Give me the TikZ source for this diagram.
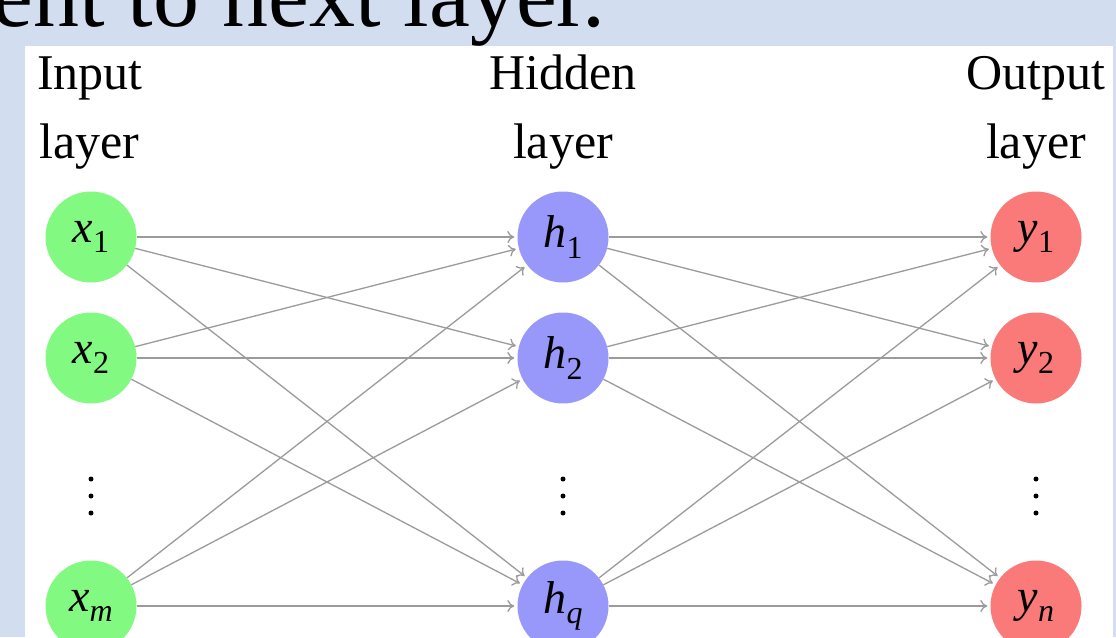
\documentclass[tikz,border=0pt]{standalone}
\usepackage{fontspec}
\setmainfont{Liberation Serif}
\usetikzlibrary{arrows.meta}
\definecolor{bgblue}{RGB}{210,221,240}
\definecolor{ingreen}{RGB}{130,250,130}
\definecolor{hidblue}{RGB}{152,152,250}
\definecolor{outred}{RGB}{250,122,122}
\definecolor{edgegray}{RGB}{155,155,155}
\tikzset{
  neuron/.style={circle,minimum size=91pt,inner sep=0pt,font=\fontsize{46}{46}\selectfont},
  innode/.style={neuron,fill=ingreen},
  hidnode/.style={neuron,fill=hidblue},
  outnode/.style={neuron,fill=outred},
  edge/.style={draw=edgegray,line width=1.3pt,-{To[length=7pt,width=12pt]},shorten >=3pt},
  lbl/.style={font=\fontsize{50}{50}\selectfont,inner sep=0pt,anchor=base},
  vd/.style={circle,fill=black,inner sep=0pt,minimum size=5pt}
}
\newcommand{\nlab}[2]{\textit{#1}\raisebox{-0.22em}{\fontsize{32}{32}\selectfont #2}}
\begin{document}
\begin{tikzpicture}[x=1pt,y=-1pt]
\useasboundingbox (0,0) rectangle (1116,637);
\fill[bgblue] (0,0) rectangle (1116,637);
\fill[white] (24.5,45.5) rectangle (1112.5,637);
\node[anchor=base west,inner sep=0pt,font=\fontsize{92}{92}\selectfont] (title) at (-8,26) {ent to next layer.};
% layer labels
\node[lbl,anchor=base west] (inl1) at (37,89) {Input};
\node[lbl,anchor=base west] (inl2) at (39,158) {layer};
\node[lbl] (hl1) at (563,89) {Hidden};
\node[lbl] (hl2) at (563,158) {layer};
\node[lbl] (ol1) at (1036,89) {Output};
\node[lbl] (ol2) at (1036,158) {layer};
% neurons
\node[innode] (x1) at (91,237) {\nlab{x}{1}};
\node[innode] (x2) at (91,358) {\nlab{x}{2}};
\node[innode] (xm) at (91,606) {\nlab{x}{\textit{m}}};
\node[hidnode] (h1) at (563,237) {\nlab{h}{1}};
\node[hidnode] (h2) at (563,358) {\nlab{h}{2}};
\node[hidnode] (hq) at (563,606) {\nlab{h}{\textit{q}}};
\node[outnode] (y1) at (1036,237) {\nlab{y}{1}};
\node[outnode] (y2) at (1036,358) {\nlab{y}{2}};
\node[outnode] (yn) at (1036,606) {\nlab{y}{\textit{n}}};
% vertical dots
\foreach \c/\n in {91/a,563/b,1036/c}{
  \node[vd] (d\n1) at (\c,479) {};
  \node[vd] (d\n2) at (\c,496) {};
  \node[vd] (d\n3) at (\c,513) {};
}
% edges
\foreach \s in {x1,x2,xm}{
  \foreach \t in {h1,h2,hq}{
    \draw[edge] (\s) -- (\t);
  }
}
\foreach \s in {h1,h2,hq}{
  \foreach \t in {y1,y2,yn}{
    \draw[edge] (\s) -- (\t);
  }
}
\end{tikzpicture}
\end{document}
